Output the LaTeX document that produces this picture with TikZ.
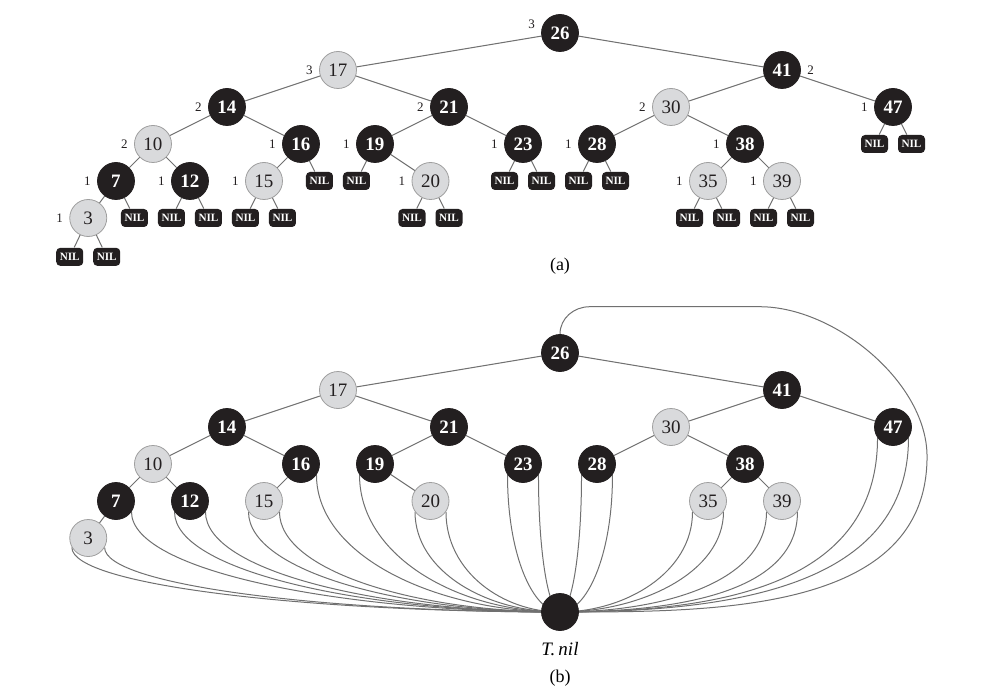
\documentclass[tikz,border=0pt]{standalone}
\usepackage{fontspec}
\setmainfont{Liberation Serif}
\usetikzlibrary{calc,backgrounds,positioning}

\definecolor{rbblack}{HTML}{231F20}
\definecolor{rbred}{HTML}{D9DADC}
\definecolor{rbline}{HTML}{707070}

\begin{document}
\begin{tikzpicture}
    [x=18.5pt,y=18.5pt,
    font=\fontsize{9}{10}\selectfont,
    blacknode/.style={shape=circle,minimum size=18.5pt,inner sep=0pt,draw=rbblack,fill=rbblack,text=white,font=\fontsize{9.5}{10}\selectfont\bfseries},
    rednode/.style={shape=circle,minimum size=18.5pt,inner sep=0pt,draw=gray!75,fill=rbred,text=rbblack,font=\fontsize{9.5}{10}\selectfont},
    nilnode/.style={shape=rectangle,rounded corners=2pt,minimum width=13.5pt,minimum height=9pt,inner sep=0pt,fill=rbblack,text=white,font=\fontsize{5.6}{6}\selectfont\bfseries},
    bh/.style={font=\fontsize{6.5}{7}\selectfont,text=rbblack,inner sep=0.5pt,label distance=2.5pt},
    edge/.style={draw=rbline,line width=0.5pt},
    nilarc/.style={to path={let \p1=(\tikztostart),\p2=(\tikztotarget) in
      .. controls (\x1,{\y1+#1*(\y2-\y1)}) and ({0.5*(\x1+\x2)},\y2) .. (\tikztotarget)}},
    nilarc/.default=0.6]

    \useasboundingbox (-280pt,16.5pt) rectangle (220pt,-333.5pt);

    % (a) the tree with its NIL leaves and black-heights
    \node (a26) [blacknode,label={[bh]172:3}] at (0,0) {26};
    \node (a17) [rednode,label={[bh]left:3}] at (-6,-1) {17};
    \node (a41) [blacknode,label={[bh]right:2}] at (6,-1) {41};
    \node (a14) [blacknode,label={[bh]left:2}] at (-9,-2) {14};
    \node (a21) [blacknode,label={[bh]left:2}] at (-3,-2) {21};
    \node (a30) [rednode,label={[bh]left:2}] at (3,-2) {30};
    \node (a47) [blacknode,label={[bh]left:1}] at (9,-2) {47};
    \node (a10) [rednode,label={[bh]left:2}] at (-11,-3) {10};
    \node (a16) [blacknode,label={[bh]left:1}] at (-7,-3) {16};
    \node (a19) [blacknode,label={[bh]left:1}] at (-5,-3) {19};
    \node (a23) [blacknode,label={[bh]left:1}] at (-1,-3) {23};
    \node (a28) [blacknode,label={[bh]left:1}] at (1,-3) {28};
    \node (a38) [blacknode,label={[bh]left:1}] at (5,-3) {38};
    \node (a7) [blacknode,label={[bh]left:1}] at (-12,-4) {7};
    \node (a12) [blacknode,label={[bh]left:1}] at (-10,-4) {12};
    \node (a15) [rednode,label={[bh]left:1}] at (-8,-4) {15};
    \node (a20) [rednode,label={[bh]left:1}] at (-3.5,-4) {20};
    \node (a35) [rednode,label={[bh]left:1}] at (4,-4) {35};
    \node (a39) [rednode,label={[bh]left:1}] at (6,-4) {39};
    \node (a3) [rednode,label={[bh]left:1}] at (-12.75,-5) {3};

    \node (a47l) [nilnode] at (8.5,-3) {NIL};
    \node (a47r) [nilnode] at (9.5,-3) {NIL};
    \node (a16r) [nilnode] at (-6.5,-4) {NIL};
    \node (a19l) [nilnode] at (-5.5,-4) {NIL};
    \node (a23l) [nilnode] at (-1.5,-4) {NIL};
    \node (a23r) [nilnode] at (-0.5,-4) {NIL};
    \node (a28l) [nilnode] at (0.5,-4) {NIL};
    \node (a28r) [nilnode] at (1.5,-4) {NIL};
    \node (a7r) [nilnode] at (-11.5,-5) {NIL};
    \node (a12l) [nilnode] at (-10.5,-5) {NIL};
    \node (a12r) [nilnode] at (-9.5,-5) {NIL};
    \node (a15l) [nilnode] at (-8.5,-5) {NIL};
    \node (a15r) [nilnode] at (-7.5,-5) {NIL};
    \node (a20l) [nilnode] at (-4,-5) {NIL};
    \node (a20r) [nilnode] at (-3,-5) {NIL};
    \node (a35l) [nilnode] at (3.5,-5) {NIL};
    \node (a35r) [nilnode] at (4.5,-5) {NIL};
    \node (a39l) [nilnode] at (5.5,-5) {NIL};
    \node (a39r) [nilnode] at (6.5,-5) {NIL};
    \node (a3l) [nilnode] at (-13.25,-6.05) {NIL};
    \node (a3r) [nilnode] at (-12.25,-6.05) {NIL};

    \draw [edge] (a26) -- (a17) (a26) -- (a41);
    \draw [edge] (a17) -- (a14) (a17) -- (a21);
    \draw [edge] (a41) -- (a30) (a41) -- (a47);
    \draw [edge] (a14) -- (a10) (a14) -- (a16);
    \draw [edge] (a21) -- (a19) (a21) -- (a23);
    \draw [edge] (a30) -- (a28) (a30) -- (a38);
    \draw [edge] (a47) -- (a47l) (a47) -- (a47r);
    \draw [edge] (a10) -- (a7) (a10) -- (a12);
    \draw [edge] (a16) -- (a15) (a16) -- (a16r);
    \draw [edge] (a19) -- (a19l) (a19) -- (a20);
    \draw [edge] (a23) -- (a23l) (a23) -- (a23r);
    \draw [edge] (a28) -- (a28l) (a28) -- (a28r);
    \draw [edge] (a38) -- (a35) (a38) -- (a39);
    \draw [edge] (a7) -- (a3) (a7) -- (a7r);
    \draw [edge] (a12) -- (a12l) (a12) -- (a12r);
    \draw [edge] (a15) -- (a15l) (a15) -- (a15r);
    \draw [edge] (a20) -- (a20l) (a20) -- (a20r);
    \draw [edge] (a35) -- (a35l) (a35) -- (a35r);
    \draw [edge] (a39) -- (a39l) (a39) -- (a39r);
    \draw [edge] (a3) -- (a3l) (a3) -- (a3r);

    \node (capa) at (0,-6.3) {(a)};

    % (b) the same tree with one sentinel
    \begin{scope}[yshift=-160pt]
    \node (b26) [blacknode] at (0,0) {26};
    \node (b17) [rednode] at (-6,-1) {17};
    \node (b41) [blacknode] at (6,-1) {41};
    \node (b14) [blacknode] at (-9,-2) {14};
    \node (b21) [blacknode] at (-3,-2) {21};
    \node (b30) [rednode] at (3,-2) {30};
    \node (b47) [blacknode] at (9,-2) {47};
    \node (b10) [rednode] at (-11,-3) {10};
    \node (b16) [blacknode] at (-7,-3) {16};
    \node (b19) [blacknode] at (-5,-3) {19};
    \node (b23) [blacknode] at (-1,-3) {23};
    \node (b28) [blacknode] at (1,-3) {28};
    \node (b38) [blacknode] at (5,-3) {38};
    \node (b7) [blacknode] at (-12,-4) {7};
    \node (b12) [blacknode] at (-10,-4) {12};
    \node (b15) [rednode] at (-8,-4) {15};
    \node (b20) [rednode] at (-3.5,-4) {20};
    \node (b35) [rednode] at (4,-4) {35};
    \node (b39) [rednode] at (6,-4) {39};
    \node (b3) [rednode] at (-12.75,-5) {3};
    \node (nil) [blacknode] at (0,-7) {};
    \coordinate (loopright) at (9.92,-2.8);

    \draw [edge] (b26) -- (b17) (b26) -- (b41);
    \draw [edge] (b17) -- (b14) (b17) -- (b21);
    \draw [edge] (b41) -- (b30) (b41) -- (b47);
    \draw [edge] (b14) -- (b10) (b14) -- (b16);
    \draw [edge] (b21) -- (b19) (b21) -- (b23);
    \draw [edge] (b30) -- (b28) (b30) -- (b38);
    \draw [edge] (b10) -- (b7) (b10) -- (b12);
    \draw [edge] (b16) -- (b15);
    \draw [edge] (b19) -- (b20);
    \draw [edge] (b38) -- (b35) (b38) -- (b39);
    \draw [edge] (b7) -- (b3);

    \begin{scope}[on background layer]
    \draw [edge] (b3.-150) to [nilarc] (nil.center);
    \draw [edge] (b3.-30) to [nilarc] (nil.center);
    \draw [edge] (b7.-35) to [nilarc] (nil.center);
    \draw [edge] (b12.-145) to [nilarc] (nil.center);
    \draw [edge] (b12.-35) to [nilarc] (nil.center);
    \draw [edge] (b15.-145) to [nilarc] (nil.center);
    \draw [edge] (b15.-35) to [nilarc] (nil.center);
    \draw [edge] (b16.-35) to [nilarc] (nil.center);
    \draw [edge] (b19.-145) to [nilarc] (nil.center);
    \draw [edge] (b20.-145) to [nilarc] (nil.center);
    \draw [edge] (b20.-35) to [nilarc] (nil.center);
    \draw [edge] (b23.-145) to [nilarc] (nil.center);
    \draw [edge] (b23.-35) to [nilarc] (nil.center);
    \draw [edge] (b28.-145) to [nilarc] (nil.center);
    \draw [edge] (b28.-35) to [nilarc] (nil.center);
    \draw [edge] (b35.-145) to [nilarc] (nil.center);
    \draw [edge] (b35.-35) to [nilarc] (nil.center);
    \draw [edge] (b39.-145) to [nilarc=0.7] (nil.center);
    \draw [edge] (b39.-35) to [nilarc=0.8] (nil.center);
    \draw [edge] (b47.-145) to [nilarc=0.85] (nil.center);
    \draw [edge] (b47.-35) to [nilarc=0.85] (nil.center);
    \draw [edge] (b26.north) to [out=90,in=180] ++(0.8,0.74) -- ++(4.6,0)
      to [out=0,in=90,looseness=0.85] (loopright) to [out=-90,in=0] (nil.center);
    \end{scope}

    \node (nillabel) [below=2pt of nil,font=\fontsize{9.5}{10}\selectfont\itshape] {T.\,nil};
    \node (capb) at (0,-8.78) {(b)};
    \end{scope}
\end{tikzpicture}
\end{document}
